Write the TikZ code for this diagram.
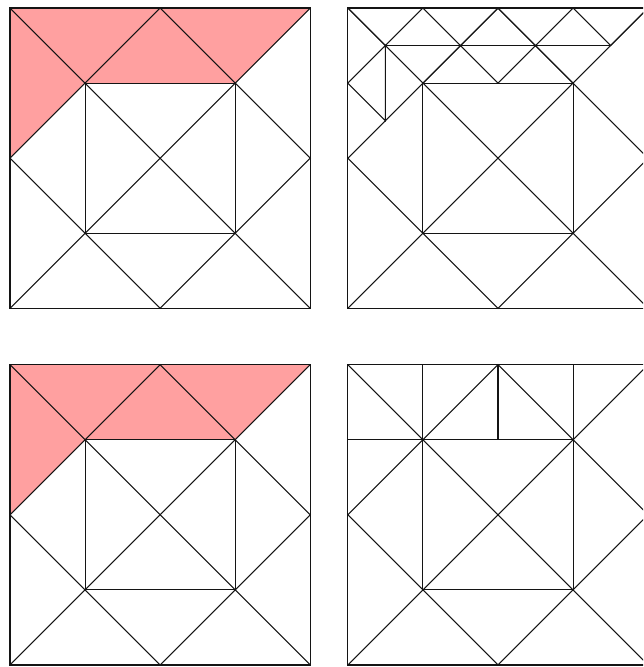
\documentclass[tikz,border=0pt]{standalone}
\definecolor{tilepink}{RGB}{255, 160, 160}
\definecolor{tileline}{RGB}{20, 20, 20}
\usepackage{tikz}
\usetikzlibrary{calc}

% Basic 4x4 tiling: frame, diamond, inner square and both diagonals
\newcommand{\basetiling}{%
  \draw (0,0) rectangle (4,4);
  \draw (0,2) -- (2,4) -- (4,2) -- (2,0) -- cycle;
  \draw (1,1) rectangle (3,3);
  \draw (0,0) -- (4,4);
  \draw (0,4) -- (4,0);
}

\begin{document}
\begin{tikzpicture}[color=tileline, line width=0.4pt]
                % Picture frame (right panels are cut off)
                \clip (-0.133, -0.027) rectangle (8.433, 8.857);

                % Top left: shaded region
                \begin{scope}[shift={(0, 4.75)}]
                    \fill[tilepink] (0,4) -- (4,4) -- (3,3) -- (1,3) -- (0,2) -- cycle;
                    \basetiling
                \end{scope}

                % Top right: region cut into small triangles
                \begin{scope}[shift={(4.5, 4.75)}]
                    \basetiling
                    \draw (0,4) -- (0.5,3.5) -- (1,4) -- (1.5,3.5) -- (2,4) -- (2.5,3.5) -- (3,4) -- (3.5,3.5) -- (4,4);
                    \draw (0.5,3.5) -- (3.5,3.5);
                    \draw (1,3) -- (1.5,3.5) -- (2,3) -- (2.5,3.5) -- (3,3);
                    \draw (0,3) -- (0.5,3.5) -- (0.5,2.5) -- cycle;
                \end{scope}

                % Bottom left: shaded region again
                \begin{scope}[shift={(0, 0)}]
                    \fill[tilepink] (0,4) -- (4,4) -- (3,3) -- (1,3) -- (0,2) -- cycle;
                    \basetiling
                \end{scope}

                % Bottom right: region cut along the grid
                \begin{scope}[shift={(4.5, 0)}]
                    \basetiling
                    \draw (0,3) -- (3,3);
                    \draw (1,3) -- (1,4);
                    \draw (2,3) -- (2,4);
                    \draw (3,3) -- (3,4);
                \end{scope}
\end{tikzpicture}
\end{document}
